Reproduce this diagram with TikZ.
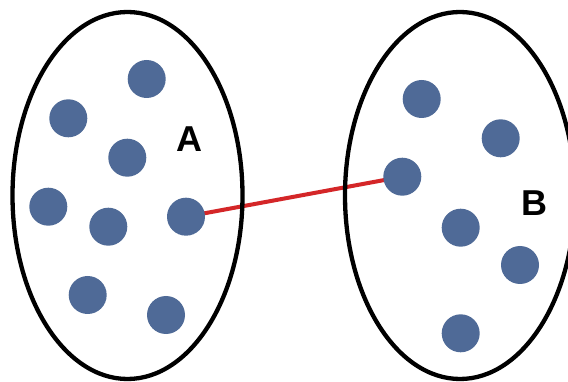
\documentclass[tikz,border=0pt]{standalone}
\usepackage{fontspec}
\setmainfont{Liberation Sans}
\usetikzlibrary{shapes.geometric,backgrounds}
\definecolor{dotblue}{RGB}{79,106,151}
\definecolor{linkred}{RGB}{212,38,40}
\begin{document}
\begin{tikzpicture}[x=1pt,y=-1pt,
  setring/.style={draw=black, line width=4.3pt, ellipse, minimum width=230pt, minimum height=367pt, inner sep=0pt},
  elem/.style={circle, fill=dotblue, minimum size=38pt, inner sep=0pt},
  setlabel/.style={font=\bfseries\fontsize{36}{36}\selectfont, inner sep=0pt},
  link/.style={draw=linkred, line width=4pt}]
\useasboundingbox (0,0) rectangle (568,382);
\clip (0,0) rectangle (568,382);
% sets
\node[setring] (setA) at (127.5,195.5) {};
\node[setring] (setB) at (460,195.5) {};
% elements of A
\node[elem] (a1) at (146.7,79) {};
\node[elem] (a2) at (68.3,118.3) {};
\node[elem] (a3) at (127.3,157.7) {};
\node[elem] (a4) at (48.3,206.7) {};
\node[elem] (a5) at (108.3,226.7) {};
\node[elem] (a6) at (186,216.7) {};
\node[elem] (a7) at (87.7,295) {};
\node[elem] (a8) at (166,315) {};
% elements of B
\node[elem] (b1) at (421.7,99) {};
\node[elem] (b2) at (500.7,138.3) {};
\node[elem] (b3) at (402.3,176.7) {};
\node[elem] (b4) at (460.7,227.7) {};
\node[elem] (b5) at (520,265) {};
\node[elem] (b6) at (460.7,333.3) {};
% labels
\node[setlabel] (labA) at (189,139.5) {A};
\node[setlabel] (labB) at (534.5,203) {B};
% connector
\begin{scope}[on background layer]
\fill[white] (0,0) rectangle (568,382);
\draw[link] (a6.center) -- (b3.center);
\end{scope}
\end{tikzpicture}
\end{document}
